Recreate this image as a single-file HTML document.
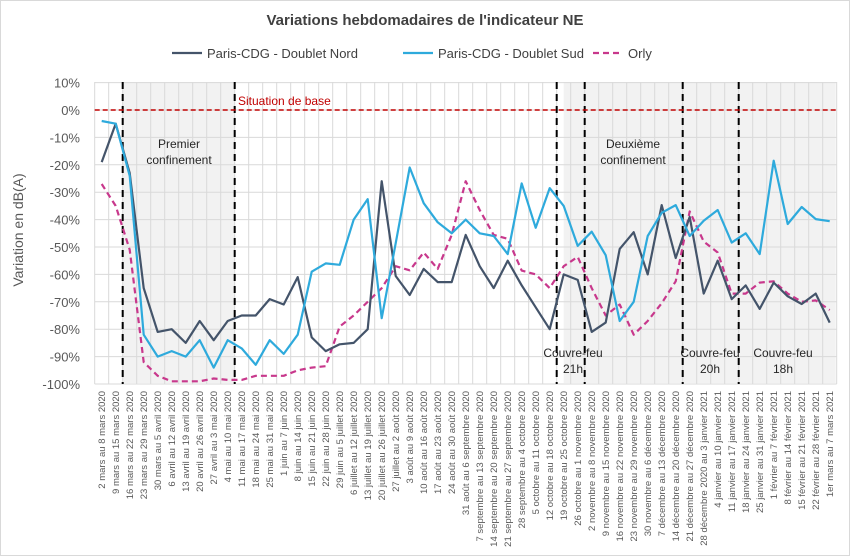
<!DOCTYPE html>
<html><head><meta charset="utf-8"><style>
body{margin:0;background:#fff}
svg{display:block;font-family:"Liberation Sans",sans-serif}
</style></head><body>
<svg id="c" width="850" height="556" viewBox="0 0 850 556" xmlns="http://www.w3.org/2000/svg"></svg>
<script>
const s=document.getElementById('c');
let h='';
const X0=94.7,W=14,Y0=110,K=2.74;
const xi=i=>X0+W*(i+0.5), yv=v=>Y0-v*K;
h+='<rect x="0.5" y="0.5" width="849" height="555" fill="#fff" stroke="#d9d9d9"/>';
h+=`<rect x="122.7" y="82" width="112" height="301" fill="#f2f2f2"/>`;
h+=`<rect x="563.7" y="82" width="272" height="301" fill="#f2f2f2"/>`;
for(let v=10;v>=-100;v-=10){h+=`<line x1="${X0}" x2="836.7" y1="${yv(v)}" y2="${yv(v)}" stroke="#d9d9d9"/>`;}
for(let i=0;i<=53;i++){const x=X0+W*i;h+=`<line x1="${x}" x2="${x}" y1="82" y2="384" stroke="#d9d9d9"/>`;}
for(let v=10;v>=-100;v-=10){h+=`<text x="80" y="${yv(v)+5}" font-size="13" text-anchor="end" fill="#595959">${v}%</text>`;}
h+=`<text transform="translate(23,230) rotate(-90)" font-size="14" text-anchor="middle" fill="#595959">Variation en dB(A)</text>`;
const labels=["2 mars au  8 mars 2020","9 mars au 15 mars 2020","16 mars au 22 mars 2020","23 mars au 29 mars 2020","30 mars au 5 avril 2020","6 avril au 12 avril 2020","13 avril au 19 avril 2020","20 avril au 26 avril 2020","27 avril au 3 mai 2020","4 mai au 10 mai 2020","11 mai au 17 mai 2020","18 mai au 24 mai 2020","25 mai au 31 mai 2020","1 juin au 7 juin 2020","8 juin au 14 juin 2020","15 juin au 21 juin 2020","22 juin au 28 juin 2020","29 juin au 5 juillet 2020","6 juillet au 12 juillet 2020","13 juillet au 19 juillet 2020","20 juillet au 26 juillet 2020","27 juillet au 2 août 2020","3 août au 9 août 2020","10 août au 16 août 2020","17 août au 23 août 2020","24 août au 30 août 2020","31 août au 6 septembre 2020","7 septembre au 13 septembre 2020","14 septembre au 20 septembre 2020","21 septembre au 27 septembre 2020","28 septembre au 4 octobre 2020","5 octobre au 11 octobre 2020","12 octobre au 18 octobre 2020","19 octobre au 25 octobre 2020","26 octobre au 1 novembre 2020","2 novembre au 8 novembre 2020","9 novembre au 15 novembre 2020","16 novembre au 22 novembre 2020","23 novembre au 29 novembre 2020","30 novembre au 6 décembre 2020","7 décembre au 13 décembre 2020","14 décembre au 20 décembre 2020","21 décembre au 27 décembre 2020","28 décembre 2020 au 3 janvier 2021","4 janvier au 10 janvier 2021","11 janvier au 17 janvier 2021","18 janvier au 24 janvier 2021","25 janvier au 31 janvier 2021","1 février au 7 février 2021","8 février au 14 février 2021","15 février au 21 février 2021","22 février au 28 février 2021","1er mars au 7 mars 2021"];
labels.forEach((t,i)=>{h+=`<text transform="translate(${xi(i)+3.5},391) rotate(-90)" font-size="9.5" text-anchor="end" fill="#595959">${t}</text>`;});
[2,10,33,35,42,46].forEach(b=>{const x=X0+W*b;h+=`<line x1="${x}" x2="${x}" y1="82" y2="384" stroke="#000" stroke-width="2" stroke-dasharray="7,5"/>`;});
h+=`<line x1="${X0}" x2="836.7" y1="110" y2="110" stroke="#c00000" stroke-width="1.5" stroke-dasharray="5,3"/>`;
h+=`<text x="238" y="105" font-size="12" fill="#c00000">Situation de base</text>`;
const ann=(x,y,a,b)=>{h+=`<text x="${x}" y="${y}" font-size="12" text-anchor="middle" fill="#262626">${a}</text><text x="${x}" y="${y+16}" font-size="12" text-anchor="middle" fill="#262626">${b}</text>`;};
ann(179,148,"Premier","confinement");ann(633,148,"Deuxième","confinement");
ann(573,357,"Couvre-feu","21h");ann(710,357,"Couvre-feu","20h");ann(783,357,"Couvre-feu","18h");
const nord=[-19,-5,-23,-65,-81,-80,-85,-77,-84,-77,-75,-75,-69,-71,-61,-83,-88,-85.5,-85,-80,-26,-60.6,-67.5,-58,-62.8,-62.8,-45.6,-57,-65,-55,-64,-72,-80,-60,-62,-81,-77.6,-50.7,-44.6,-60,-34.7,-54,-39,-67,-55,-69,-64,-72.6,-63,-68,-70.8,-67,-77.6];
const sud=[-4,-5,-24,-82,-90,-88,-90,-84,-94,-84,-87,-93,-84,-89,-82,-59,-56,-56.5,-40,-32.5,-76,-48.6,-21,-34,-41,-45,-40,-45,-46,-52.6,-26.8,-43,-28.5,-35,-49.6,-44.4,-53,-77,-70,-46,-37.5,-34.7,-46,-40.4,-36.5,-48.4,-45,-52.6,-18.5,-41.6,-35.4,-39.8,-40.6];
const orly=[-27,-35,-51,-92,-97,-99,-99,-99,-98,-98.5,-98.5,-97,-97,-97,-95,-94,-93.5,-79,-75,-70,-65,-57,-58.5,-52,-58,-45.6,-26,-36.5,-45.6,-47,-58.6,-60,-65,-57,-53.6,-65,-75,-71,-82,-77,-70.5,-62.5,-37,-48,-52,-67,-67,-63,-62.5,-67,-70,-69.5,-73];
const pl=(d,c,extra)=>{h+=`<polyline fill="none" stroke="${c}" stroke-width="2.2" stroke-linejoin="round" ${extra||''} points="${d.map((v,i)=>xi(i).toFixed(1)+','+yv(v).toFixed(1)).join(' ')}"/>`;};
pl(orly,"#c8388c",'stroke-dasharray="6,4"');
pl(nord,"#44546a");pl(sud,"#2eaadc");
h+=`<text x="425" y="25" font-size="15" font-weight="bold" text-anchor="middle" fill="#404040">Variations hebdomadaires de l'indicateur NE</text>`;
h+=`<line x1="172" x2="202" y1="53" y2="53" stroke="#44546a" stroke-width="2.2"/><text x="207" y="58" font-size="13" fill="#404040">Paris-CDG - Doublet Nord</text>`;
h+=`<line x1="403" x2="433" y1="53" y2="53" stroke="#2eaadc" stroke-width="2.2"/><text x="438" y="58" font-size="13" fill="#404040">Paris-CDG - Doublet Sud</text>`;
h+=`<line x1="593" x2="623" y1="53" y2="53" stroke="#c8388c" stroke-width="2.2" stroke-dasharray="6,4"/><text x="628" y="58" font-size="13" fill="#404040">Orly</text>`;
s.innerHTML=h;
</script>
</body></html>
